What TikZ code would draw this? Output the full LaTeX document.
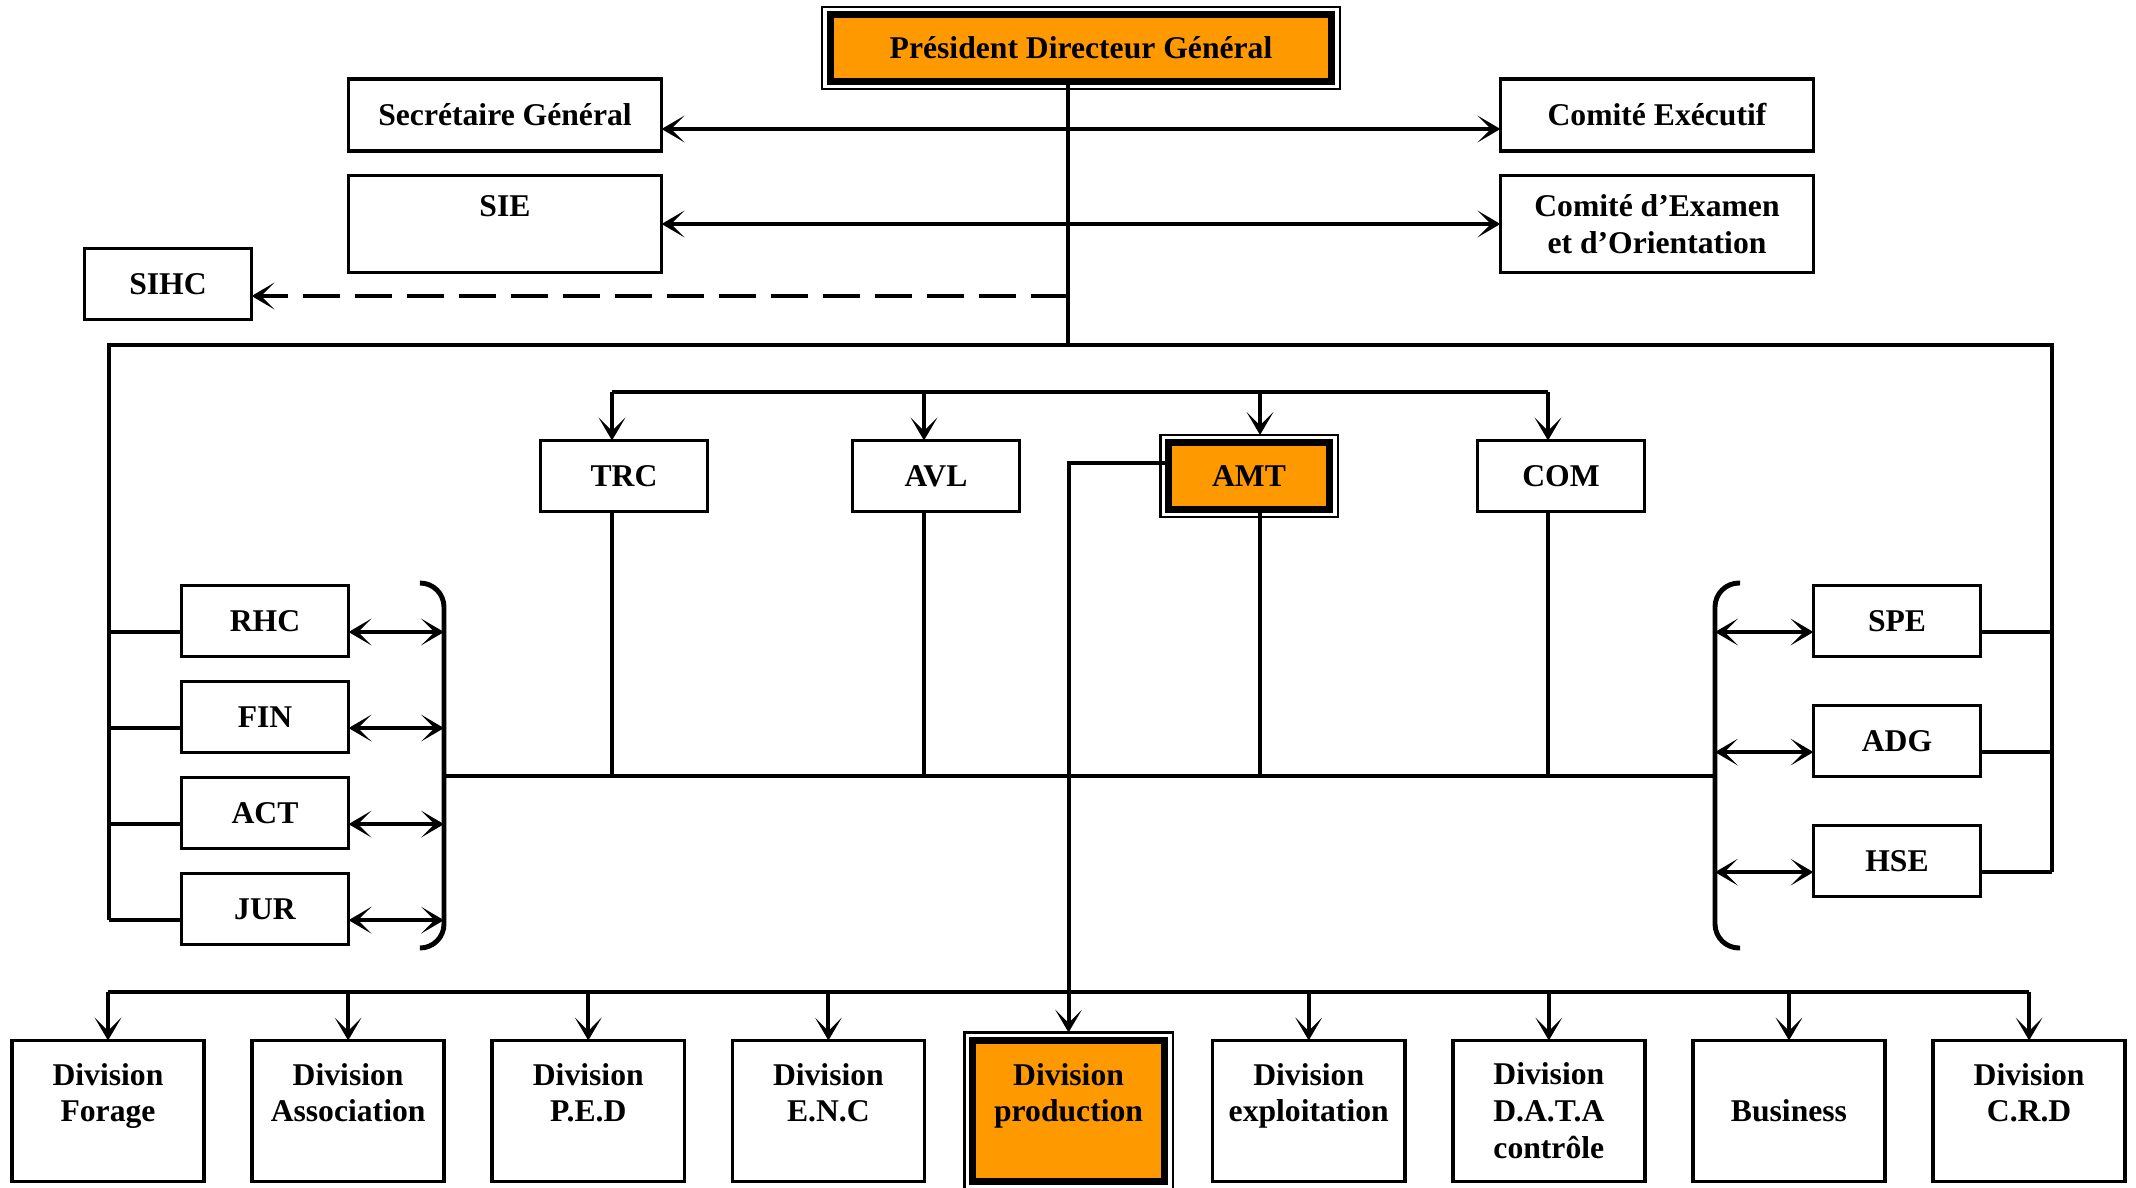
\documentclass[tikz,border=0pt]{standalone}
\usepackage{fontspec}
\setmainfont{Liberation Serif}
\usepackage{xcolor}
\usetikzlibrary{arrows.meta, positioning, fit}
\definecolor{amber}{RGB}{255,153,0}

\begin{document}
\begin{tikzpicture}[x=0.01cm, y=-0.01cm,
  box/.style={rectangle, draw=black, line width=1pt, fill=white, outer sep=0pt,
    inner sep=2pt, align=center, font=\fontsize{9}{10.5}\selectfont\bfseries},
  ubox/.style={box, minimum width=3.13cm, minimum height=0.72cm},
  sbox/.style={box, minimum width=1.67cm, minimum height=0.71cm},
  divbox/.style={box, minimum width=1.92cm, minimum height=1.41cm},
  keybox/.style={line width=2pt, fill=amber},
  outerframe/.style={rectangle, draw=black, line width=0.6pt, outer sep=0pt,
    inner sep=0.08cm},
  link/.style={line width=1.15pt},
  bus/.style={line width=1.35pt},
  brace/.style={line width=1.4pt, rounded corners=0.24cm},
  arr/.style={link, -{Stealth[length=6.5pt, width=7.6pt, inset=3.8pt]}},
  biarr/.style={link, {Stealth[length=6.5pt, width=7.6pt, inset=3.8pt]}-{Stealth[length=6.5pt, width=7.6pt, inset=3.8pt]}},
  dasharr/.style={arr, dash pattern=on 0.37cm off 0.15cm},
]
\useasboundingbox (0,0) rectangle (2136,1188);
% ====== TOP: DIRECTION ======
\node[box, keybox, minimum width=5.01cm, minimum height=0.66cm] (pdg) at (1081,48)
  {Président Directeur Général};
\node[ubox] (sg) at (505,115) {Secrétaire Général};
\node[ubox, minimum height=0.97cm] (sie) at (505,224) {SIE\\\mbox{}};
\node[ubox] (cex) at (1657,115) {Comité Exécutif};
\node[ubox, minimum height=0.97cm] (ceo) at (1657,224)
  {Comité d’Examen\\et d’Orientation};
\node[sbox] (sihc) at (168,284) {SIHC};
\coordinate (trunk) at (1068,345);
\coordinate (lrail) at (109,345);
\coordinate (rrail) at (2052,345);
\coordinate (sihc_p) at ([yshift=-0.12cm]sihc.east);
\draw[link] (trunk |- pdg.south) -- (trunk);
\draw[biarr] ([yshift=-0.14cm]sg.east) -- ([yshift=-0.14cm]cex.west);
\draw[biarr] (sie.east) -- (ceo.west);
\draw[dasharr] (trunk |- sihc_p) -- (sihc_p);
%
% ====== MIDDLE: DIRECTIONS ======
\node[sbox] (trc) at (624,476) {TRC};
\node[sbox] (avl) at (936,476) {AVL};
\node[box, keybox, minimum width=1.61cm, minimum height=0.66cm] (amt) at (1249,476) {AMT};
\node[sbox] (com) at (1561,476) {COM};
\node[outerframe, fit=(amt)] (amt_f) {};
\coordinate (dist) at (612,392);
\coordinate (lbrk) at (444,776);
\coordinate (rbrk) at (1715,776);
\coordinate (trc_c) at ([xshift=-0.12cm]trc.north);
\coordinate (avl_c) at ([xshift=-0.12cm]avl.north);
\coordinate (amt_c) at ([xshift=0.11cm]amt_f.north);
\coordinate (com_c) at ([xshift=-0.13cm]com.north);
\draw[bus] (trc_c |- dist) -- (com_c |- dist);
\draw[arr] (trc_c |- dist) -- (trc_c);
\draw[arr] (avl_c |- dist) -- (avl_c);
\draw[arr] (amt_c |- dist) -- (amt_c);
\draw[arr] (com_c |- dist) -- (com_c);
\draw[link] (trc_c |- trc.south) -- (trc_c |- lbrk);
\draw[link] (avl_c |- avl.south) -- (avl_c |- lbrk);
\draw[link] (amt_c |- amt.south) -- (amt_c |- lbrk);
\draw[link] (com_c |- com.south) -- (com_c |- lbrk);
\draw[bus] (lbrk) -- (rbrk);
%
% ====== LEFT: SUPPORT ======
\node[sbox] (rhc) at (265,621) {RHC};
\node[sbox, below=0.25cm of rhc] (fin) {FIN};
\node[sbox, below=0.25cm of fin] (act) {ACT};
\node[sbox, below=0.25cm of act] (jur) {JUR};
\coordinate (rhc_p) at ([yshift=-0.11cm]rhc.east);
\coordinate (fin_p) at ([yshift=-0.11cm]fin.east);
\coordinate (act_p) at ([yshift=-0.11cm]act.east);
\coordinate (jur_p) at ([yshift=-0.11cm]jur.east);
\draw[brace] (420,583) -| (444,948) -- (420,948);
\draw[biarr] (rhc_p) -- (lbrk |- rhc_p);
\draw[biarr] (fin_p) -- (lbrk |- fin_p);
\draw[biarr] (act_p) -- (lbrk |- act_p);
\draw[biarr] (jur_p) -- (lbrk |- jur_p);
\draw[link] (lrail |- rhc_p) -- (rhc.west |- rhc_p);
\draw[link] (lrail |- fin_p) -- (fin.west |- fin_p);
\draw[link] (lrail |- act_p) -- (act.west |- act_p);
\draw[link] (lrail |- jur_p) -- (jur.west |- jur_p);
%
% ====== RIGHT: SUPPORT ======
\node[sbox] (spe) at (1897,621) {SPE};
\node[sbox, below=0.49cm of spe] (adg) {ADG};
\node[sbox, below=0.49cm of adg] (hse) {HSE};
\coordinate (spe_p) at ([yshift=-0.11cm]spe.west);
\coordinate (adg_p) at ([yshift=-0.11cm]adg.west);
\coordinate (hse_p) at ([yshift=-0.11cm]hse.west);
\draw[brace] (1740,583) -| (1715,948) -- (1740,948);
\draw[biarr] (rbrk |- spe_p) -- (spe_p);
\draw[biarr] (rbrk |- adg_p) -- (adg_p);
\draw[biarr] (rbrk |- hse_p) -- (hse_p);
\draw[link] (spe.east |- spe_p) -- (rrail |- spe_p);
\draw[link] (adg.east |- adg_p) -- (rrail |- adg_p);
\draw[link] (hse.east |- hse_p) -- (rrail |- hse_p);
\draw[bus] (lrail |- jur_p) -- (lrail) -- (rrail) -- (rrail |- hse_p);
%
% ====== BOTTOM: DIVISIONS ======
\node[divbox] (d_forage) at (108,1111) {Division\\Forage\\\mbox{}};
\node[divbox, right=0.48cm of d_forage] (d_assoc) {Division\\Association\\\mbox{}};
\node[divbox, right=0.48cm of d_assoc] (d_ped) {Division\\P.E.D\\\mbox{}};
\node[divbox, right=0.48cm of d_ped] (d_enc) {Division\\E.N.C\\\mbox{}};
\node[divbox, keybox, right=0.48cm of d_enc] (d_prod) {Division\\production\\\mbox{}};
\node[divbox, right=0.48cm of d_prod] (d_expl) {Division\\exploitation\\\mbox{}};
\node[divbox, right=0.48cm of d_expl] (d_data) {Division\\D.A.T.A\\contrôle};
\node[divbox, right=0.48cm of d_data] (d_busi) {Business};
\node[divbox, right=0.48cm of d_busi] (d_crd) {Division\\C.R.D\\\mbox{}};
\node[outerframe, fit=(pdg)] (pdg_f) {};
\node[outerframe, fit=(d_prod)] (d_prod_f) {};
\coordinate (dbus) at (0,992);
\coordinate (amt_p) at ([yshift=0.13cm]amt.west);
\draw[bus] (d_forage.north |- dbus) -- (d_crd.north |- dbus);
\draw[arr] (d_forage.north |- dbus) -- (d_forage.north);
\draw[arr] (d_assoc.north |- dbus) -- (d_assoc.north);
\draw[arr] (d_ped.north |- dbus) -- (d_ped.north);
\draw[arr] (d_enc.north |- dbus) -- (d_enc.north);
\draw[arr] (d_expl.north |- dbus) -- (d_expl.north);
\draw[arr] (d_data.north |- dbus) -- (d_data.north);
\draw[arr] (d_busi.north |- dbus) -- (d_busi.north);
\draw[arr] (d_crd.north |- dbus) -- (d_crd.north);
\draw[arr] (amt_p) -| (d_prod_f.north);
\end{tikzpicture}
\end{document}
